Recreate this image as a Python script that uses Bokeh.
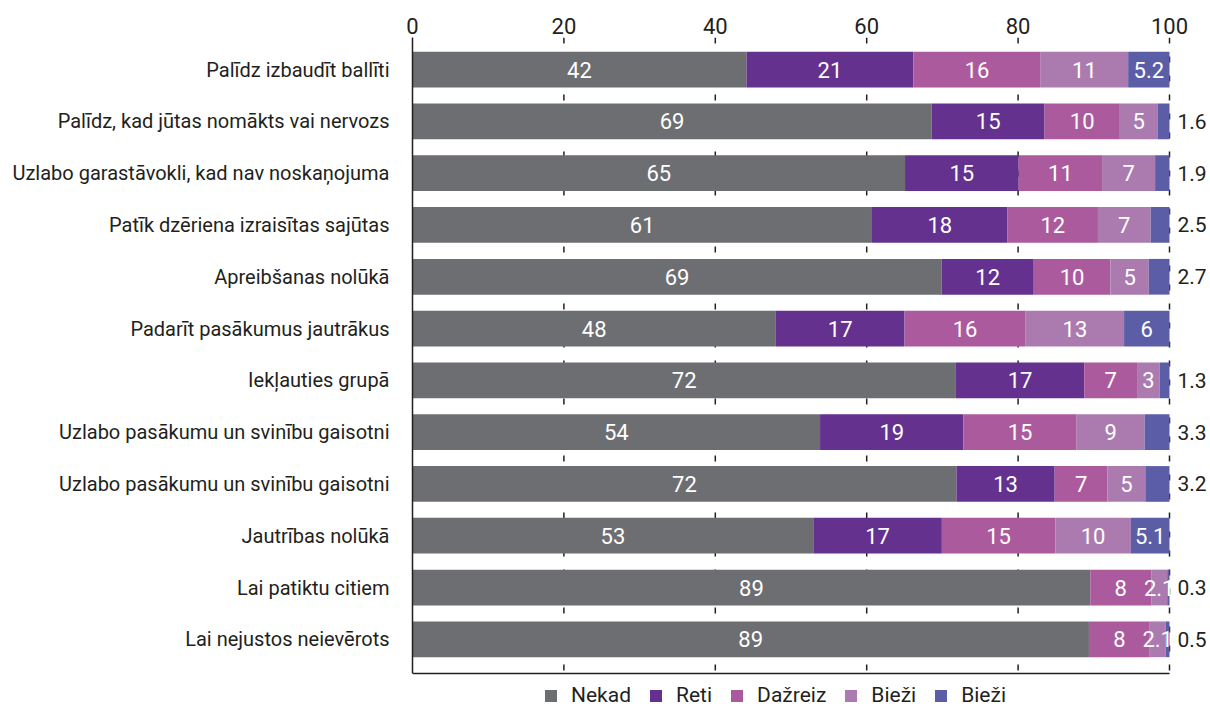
from bokeh.plotting import figure
from bokeh.models import ColumnDataSource, Range1d, FixedTicker, Legend, LegendItem
from bokeh.core.properties import value
from bokeh.embed import file_html
from bokeh.resources import INLINE

# ---- data ----
categories = [
    "Palīdz izbaudīt ballīti",
    "Palīdz, kad jūtas nomākts vai nervozs",
    "Uzlabo garastāvokli, kad nav noskaņojuma",
    "Patīk dzēriena izraisītas sajūtas",
    "Apreibšanas nolūkā",
    "Padarīt pasākumus jautrākus",
    "Iekļauties grupā",
    "Uzlabo pasākumu un svinību gaisotni",
    "Uzlabo pasākumu un svinību gaisotni",
    "Jautrības nolūkā",
    "Lai patiktu citiem",
    "Lai nejustos neievērots",
]
nekad = [42, 69, 65, 61, 69, 48, 72, 54, 72, 53, 89, 89]
reti = [21, 15, 15, 18, 12, 17, 17, 19, 13, 17, 0, 0]
dazreiz = [16, 10, 11, 12, 10, 16, 7, 15, 7, 15, 8, 8]
biezi_a = [11, 5, 7, 7, 5, 13, 3, 9, 5, 10, 2.1, 2.1]
biezi_b = [5.2, 1.6, 1.9, 2.5, 2.7, 6, 1.3, 3.3, 3.2, 5.1, 0.3, 0.5]
series_names = ["Nekad", "Reti", "Dažreiz", "Bieži", "Bieži"]
x_ticks = [0, 20, 40, 60, 80, 100]

# ---- style / layout ----
colors = ["#6D6E71", "#64318E", "#AC5A9E", "#AB7BB0", "#5B5EA6"]
FONT = "Roboto"
TXT = "#231F20"
FS = "22px"
FS_OUT = "21px"
FS_CAT = "20px"

W, H = 1210, 707
LEFT, TOP = 412, 37
PX_PER_UNIT = 757 / 100.0        # 0 -> 100 spans 757 px
STEP = 51.79                      # px per category row
Y_TOP, Y_BOT = -0.62, 11.66       # data extent of the chart area
y_start = Y_BOT + (H - 673) / STEP  # extra room below for legend
x_end = (W - LEFT) / PX_PER_UNIT

n = len(categories)
ys = list(range(n))
series = [nekad, reti, dazreiz, biezi_a, biezi_b]
totals = [sum(s[i] for s in series) for i in range(n)]

p = figure(width=W, height=H,
           x_range=Range1d(0, x_end), y_range=Range1d(y_start, Y_TOP),
           x_axis_location="above",
           output_backend="svg", toolbar_location=None,
           min_border_left=LEFT, min_border_right=0,
           min_border_top=TOP, min_border_bottom=0)
p.outline_line_color = None
p.background_fill_color = "white"
p.ygrid.visible = False
p.xgrid.visible = False

xt = FixedTicker(ticks=x_ticks)
xa = p.xaxis[0]
xa.ticker = xt
xa.axis_line_color = None
xa.major_tick_line_color = None
xa.minor_tick_line_color = None
xa.major_tick_out = 0
xa.major_label_standoff = 4
xa.major_label_text_font = FONT
xa.major_label_text_font_size = FS
xa.major_label_text_color = TXT

ya = p.yaxis[0]
ya.ticker = FixedTicker(ticks=ys)
ya.bounds = (Y_TOP, Y_BOT)
ya.major_label_overrides = {i: c for i, c in enumerate(categories)}
ya.axis_line_color = TXT
ya.axis_line_width = 1.5
ya.major_tick_line_color = None
ya.minor_tick_line_color = None
ya.major_label_standoff = 17
ya.major_label_text_font = FONT
ya.major_label_text_font_size = FS_CAT
ya.major_label_text_color = TXT

# dashed vertical grid lines, limited to the chart area
gx = x_ticks[1:]
p.segment(x0=gx, x1=gx, y0=[Y_TOP] * len(gx), y1=[Y_BOT] * len(gx),
          line_color=TXT, line_width=1.5, line_dash="6 13")
# bottom base line
p.segment(x0=[x_ticks[0]], x1=[x_ticks[-1]], y0=[Y_BOT], y1=[Y_BOT],
          line_color=TXT, line_width=1.5)

renderers = []
cum = [0.0] * n
in_x, in_y, in_t = [], [], []
out_x, out_y, out_t = [], [], []
for j, vals in enumerate(series):
    left = list(cum)
    right = [cum[i] + vals[i] / totals[i] * 100 for i in range(n)]
    src = ColumnDataSource(dict(y=ys, left=left, right=right))
    r = p.hbar(y="y", left="left", right="right", height=0.69,
               fill_color=colors[j], line_color=None, source=src)
    renderers.append(r)
    for i in range(n):
        v = vals[i]
        if v == 0:
            continue
        lab = f"{v:g}"
        if j == len(series) - 1 and v < 4:
            out_x.append(right[i])
            out_y.append(i)
            out_t.append(lab)
        else:
            in_x.append((left[i] + right[i]) / 2)
            in_y.append(i)
            in_t.append(lab)
    cum = right

p.text(x="x", y="y", text="t", source=ColumnDataSource(dict(x=in_x, y=in_y, t=in_t)),
       text_align="center", text_baseline="middle", text_color="white",
       text_font=value(FONT), text_font_size=FS)
p.text(x="x", y="y", text="t", source=ColumnDataSource(dict(x=out_x, y=out_y, t=out_t)),
       text_align="left", text_baseline="middle", text_color=TXT, x_offset=8,
       text_font=value(FONT), text_font_size=FS_OUT)

legend = Legend(items=[LegendItem(label=series_names[j], renderers=[renderers[j]]) for j in range(len(series))],
                orientation="horizontal", location=(131, 0),
                border_line_color=None, background_fill_alpha=0,
                label_text_font=FONT, label_text_font_size="21px", label_text_color=TXT,
                glyph_width=15, glyph_height=15, label_standoff=13, spacing=17,
                padding=0, margin=0)
p.add_layout(legend, "center")

open("out.html", "w").write(file_html(p, INLINE))
